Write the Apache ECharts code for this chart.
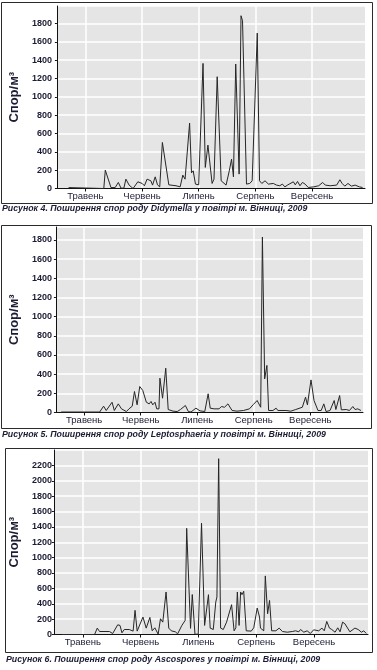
<!DOCTYPE html>
<html>
<head>
<meta charset="utf-8">
<script src="https://cdn.jsdelivr.net/npm/echarts@6/dist/echarts.min.js"></script>
<style>
  html, body { margin: 0; padding: 0; background: #fff; }
  #vis { width: 377px; height: 670px; }
</style>
</head>
<body>
<div id="vis"></div>
<script>
// x values are days counted from the end of April 2009
const tickDays = [15, 45, 75, 105, 135]
const monthLabels = ['Травень', 'Червень', 'Липень', 'Серпень', 'Вересень']

// Рисунок 4 - Didymella
const didymellaDays = [6.2, 24.8, 25.6, 28.6, 30.8, 32.5, 33.9, 35.4, 36.5, 38.2, 40.3, 42.8, 45.1, 46.3, 47.7, 49.7, 50.6, 52, 53.2, 54.4,
  55.8, 59.2, 63, 65.2, 66.6, 67.8, 70.2, 71.2, 72.1, 73.3, 75, 77.3, 78.5, 79.9, 82.1, 83.1, 84.8, 86.9, 89.5, 91.2,
  92.4, 93.4, 94.6, 96.4, 97.4, 98.2, 100.3, 102, 103.3, 106, 107.2, 108.4, 110.1, 111.9, 114.5, 116.2, 117.9, 119.3, 120.6, 122.2,
  125.1, 126.1, 127.3, 128.6, 129.9, 131.3, 133, 135.9, 138.5, 140.6, 142, 144.6, 148, 149.7, 150.9, 152.3, 154, 155.8, 157.8, 160,
  161.7]
const didymellaSpores = [10, 0, 200, 10, 10, 66, 4, 4, 102, 37, 0, 73, 55, 30, 102, 84, 37, 127, 40, 18,
  502, 40, 30, 18, 146, 102, 713, 171, 193, 48, 40, 1364, 230, 473, 55, 102, 1219, 84, 37, 193,
  320, 127, 1357, 157, 1884, 1830, 48, 55, 84, 1695, 84, 55, 84, 48, 55, 37, 30, 48, 18, 40,
  73, 40, 77, 30, 66, 48, 11, 18, 30, 66, 37, 30, 37, 95, 55, 26, 55, 26, 37, 18,
  11]

// Рисунок 5 - Leptosphaeria
const leptoDays = [2.8, 23.2, 25.3, 26.7, 29.8, 31, 33.1, 34.8, 35.8, 37.4, 38.8, 40.5, 41.7, 43.1, 44.5, 46.1, 48, 49.5, 50.5, 51.4,
  52.6, 53.5, 54.7, 55.2, 56.6, 58.3, 59.6, 62.2, 64.4, 66.1, 68.7, 70.3, 71.7, 74.3, 76.5, 79, 80.8, 81.9, 84, 86.6,
  87.8, 89.5, 91.3, 93.5, 96.1, 99.6, 102.7, 104.8, 106.8, 108.7, 109.6, 110.8, 112, 112.9, 115.2, 116.9, 117.8, 122.1, 124.7, 127.3,
  130.8, 132.5, 133.5, 135.4, 137, 139.1, 140.8, 142.2, 143.4, 145.5, 147.7, 148.6, 150.6, 151.5, 154.1, 155.8, 157.6, 158.8, 160.2, 161.9]
const leptoSpores = [5, 5, 66, 21, 107, 21, 90, 38, 55, 10, 38, 66, 219, 80, 271, 230, 107, 90, 115, 80,
  107, 38, 38, 358, 149, 462, 31, 14, 10, 31, 73, 10, 5, 45, 17, 10, 195, 45, 38, 38,
  62, 55, 90, 21, 14, 21, 38, 83, 125, 55, 1830, 351, 491, 21, 21, 45, 21, 21, 14, 31,
  55, 160, 80, 340, 125, 21, 21, 90, 10, 21, 125, 31, 177, 28, 31, 21, 62, 31, 38, 21]

// Рисунок 6 - Ascospores
const ascoDays = [4.1, 21.1, 22.5, 23.7, 28.8, 29.7, 30.5, 31.4, 33.1, 34.3, 35.3, 36.5, 39.1, 41.1, 42.1, 43.2, 46.2, 47.9, 49.8, 51,
  52.4, 54.1, 55.3, 56.5, 58.2, 59.6, 60.9, 63, 64.2, 65, 66.4, 68.1, 68.9, 70.9, 71.8, 73.2, 74.9, 76.6, 78.2, 80.2,
  81.1, 82.7, 84, 84.6, 85.5, 86.5, 87.9, 89.6, 92.2, 93.5, 94.4, 95.2, 96.1, 96.9, 97.6, 98.5, 99.8, 102.4, 103.7, 105.5,
  106.7, 107.2, 108.9, 109.7, 110.9, 111.9, 113, 115.2, 116.9, 118.6, 121.1, 123.7, 125.4, 127.1, 128, 129.7, 131.4, 133.1, 134.8, 137.4,
  139.1, 140.3, 141.6, 143, 144.2, 145.9, 147.3, 148.5, 149.8, 151, 153.6, 156.2, 157.9, 159.6, 160.8, 162.1]
const ascoSpores = [0, 0, 83, 39, 39, 52, 13, 39, 126, 118, 22, 65, 65, 44, 314, 44, 227, 83, 222, 48,
  87, 4, 205, 161, 553, 83, 48, 35, 9, 30, 118, 183, 1381, 80, 520, 4, 4, 1447, 118, 518,
  83, 65, 422, 488, 2287, 83, 65, 161, 388, 48, 87, 553, 118, 553, 518, 562, 48, 44, 87, 344,
  227, 83, 48, 762, 270, 444, 48, 48, 83, 39, 30, 39, 48, 35, 65, 30, 48, 13, 61, 48,
  83, 48, 170, 83, 65, 30, 87, 35, 161, 140, 35, 83, 65, 30, 48, 13]

const captions = [
  'Рисунок 4. Поширення спор роду Didymella у повітрі м. Вінниці, 2009',
  'Рисунок 5. Поширення спор роду Leptosphaeria у повітрі м. Вінниці, 2009',
  'Рисунок 6. Поширення спор роду Ascospores у повітрі м. Вінниці, 2009'
]

const textColor = '#1c1c34'

// pixel layout of the three panels
const panels = [
  { grid: { left: 50, top: 6, width: 315, height: 182.5 }, yMax: 1990, labelMargin: 5, box: [1, 2, 371, 201], captionY: 209 },
  { grid: { left: 50, top: 227, width: 313, height: 185.5 }, yMax: 1935, labelMargin: 4, box: [1, 225, 370, 203], captionY: 434.5 },
  { grid: { left: 53, top: 450, width: 315, height: 184.5 }, yMax: 2400, labelMargin: 2, box: [5, 448, 367, 204], captionY: 659.5 }
]

function pairs (days, values) {
  return days.map((d, i) => [d, values[i]])
}

function buildOption () {
  const seriesData = [
    pairs(didymellaDays, didymellaSpores),
    pairs(leptoDays, leptoSpores),
    pairs(ascoDays, ascoSpores)
  ]

  const grid = panels.map(p => ({
    ...p.grid,
    show: true,
    backgroundColor: '#e5e5e5',
    borderWidth: 0
  }))

  const xAxis = panels.map((p, i) => ({
    type: 'value',
    gridIndex: i,
    min: 0,
    max: 163,
    axisLine: { show: true, onZero: false, lineStyle: { color: '#111', width: 1 } },
    axisTick: { show: true, customValues: tickDays, length: 3, lineStyle: { color: '#111' } },
    axisLabel: {
      customValues: tickDays,
      margin: 3,
      color: textColor,
      fontFamily: 'Liberation Sans, Arial, sans-serif',
      fontSize: 9.5,
      formatter: (v) => monthLabels[tickDays.indexOf(v)] || ''
    },
    splitLine: { show: true, lineStyle: { color: '#ffffff', width: 1.5 } }
  }))

  const yAxis = panels.map((p, i) => ({
    type: 'value',
    gridIndex: i,
    min: 0,
    max: p.yMax,
    interval: 200,
    name: 'Спор/м³',
    nameLocation: 'middle',
    nameGap: 32,
    nameTextStyle: {
      color: textColor,
      fontFamily: 'Liberation Sans, Arial, sans-serif',
      fontWeight: 'bold',
      fontSize: 13
    },
    axisLine: { show: true, lineStyle: { color: '#111', width: 1 } },
    axisTick: { show: true, length: 2, lineStyle: { color: '#111' } },
    axisLabel: {
      margin: p.labelMargin,
      showMaxLabel: false,
      color: textColor,
      fontFamily: 'Liberation Sans, Arial, sans-serif',
      fontWeight: 'bold',
      fontSize: 9,
      formatter: (v) => String(v)
    },
    splitLine: { show: true, lineStyle: { color: '#ffffff', width: 1.5 } }
  }))

  const series = seriesData.map((data, i) => ({
    type: 'line',
    xAxisIndex: i,
    yAxisIndex: i,
    data,
    showSymbol: false,
    silent: true,
    lineStyle: { color: '#262626', width: 1 }
  }))

  const graphic = []
  panels.forEach((p, i) => {
    graphic.push({
      type: 'rect',
      shape: { x: p.box[0] + 0.5, y: p.box[1] + 0.5, width: p.box[2], height: p.box[3] },
      style: { fill: 'none', stroke: '#2b2b2b', lineWidth: 1 },
      silent: true
    })
    graphic.push({
      type: 'text',
      x: i === 2 ? 6 : 2,
      y: p.captionY,
      style: {
        text: captions[i],
        fill: textColor,
        font: 'italic bold 8.8px "Liberation Sans", Arial, sans-serif',
        verticalAlign: 'middle'
      },
      silent: true
    })
  })

  return { animation: false, grid, xAxis, yAxis, series, graphic }
}

const chart = echarts.init(document.getElementById('vis'), null, { renderer: 'canvas' })
chart.setOption(buildOption())
window.addEventListener('resize', () => chart.resize())
</script>
</body>
</html>
